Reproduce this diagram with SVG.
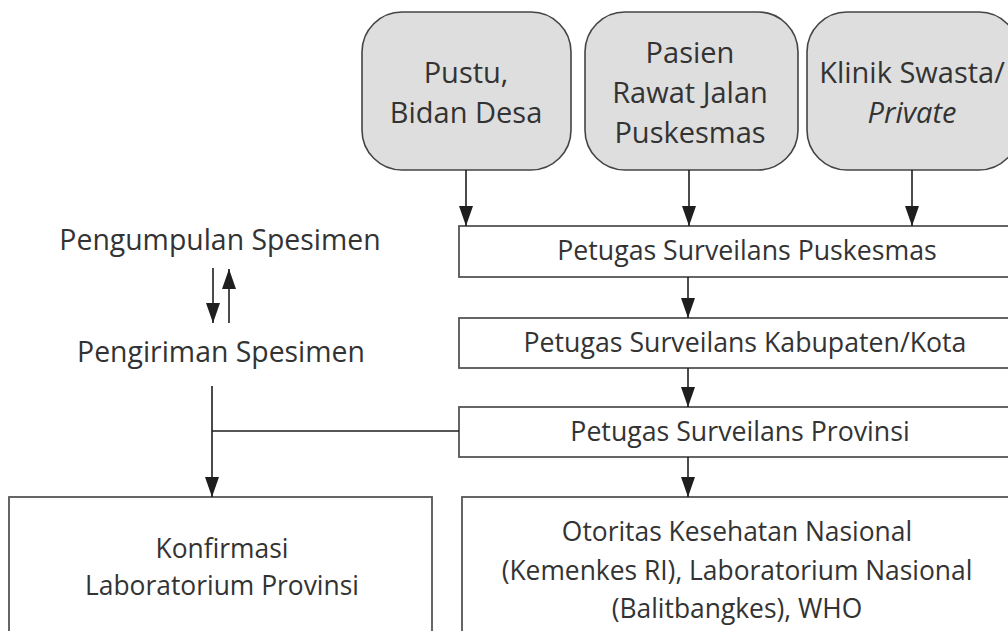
<svg xmlns="http://www.w3.org/2000/svg" width="1008" height="631" viewBox="0 0 1008 631">
  <defs>
    <marker id="arrow" viewBox="0 0 20 14" refX="20" refY="7" markerWidth="20" markerHeight="14" markerUnits="userSpaceOnUse" orient="auto">
      <path d="M0,0 L20,7 L0,14 Z" fill="#1e1e1e"/>
    </marker>
  </defs>
  <style>
    .src { fill: #dedede; stroke: #444; stroke-width: 1.6; }
    .box { fill: #fff; stroke: #555; stroke-width: 1.8; }
    .lbl { font-family: "Open Sans", "Liberation Sans", sans-serif; fill: #333; text-anchor: middle; }
    .big { font-size: 29px; }
    .mid { font-size: 26.7px; }
    .low { font-size: 26.4px; }
    .side { font-size: 28.4px; }
    .edge { stroke: #1e1e1e; stroke-width: 1.6; fill: none; }
  </style>
  <rect width="1008" height="631" fill="#fff"/>

  <!-- sources -->
  <g id="node-pustu">
    <rect class="src" x="362" y="12" width="209" height="158" rx="40"/>
    <text class="lbl big" x="466" y="83">Pustu,</text>
    <text class="lbl big" x="466" y="123">Bidan Desa</text>
  </g>
  <g id="node-pasien">
    <rect class="src" x="585" y="12" width="213" height="158" rx="40"/>
    <text class="lbl big" x="690" y="63">Pasien</text>
    <text class="lbl big" x="690" y="103">Rawat Jalan</text>
    <text class="lbl big" x="690" y="143">Puskesmas</text>
  </g>
  <g id="node-klinik">
    <rect class="src" x="807" y="12" width="212" height="158" rx="40"/>
    <text class="lbl big" x="912" y="83">Klinik Swasta/</text>
    <text class="lbl big" x="912" y="123" font-style="italic">Private</text>
  </g>

  <!-- reporting chain -->
  <g id="node-puskesmas">
    <rect class="box" x="459" y="226" width="560" height="51"/>
    <text class="lbl mid" x="747" y="260">Petugas Surveilans Puskesmas</text>
  </g>
  <g id="node-kabupaten">
    <rect class="box" x="459" y="318" width="560" height="50"/>
    <text class="lbl mid" x="745" y="352">Petugas Surveilans Kabupaten/Kota</text>
  </g>
  <g id="node-provinsi">
    <rect class="box" x="459" y="407" width="560" height="50"/>
    <text class="lbl mid" x="740" y="441">Petugas Surveilans Provinsi</text>
  </g>

  <!-- destinations -->
  <g id="node-lab-provinsi">
    <rect class="box" x="9" y="497" width="423" height="150"/>
    <text class="lbl low" x="222" y="558">Konfirmasi</text>
    <text class="lbl low" x="222" y="595">Laboratorium Provinsi</text>
  </g>
  <g id="node-nasional">
    <rect class="box" x="462" y="497" width="560" height="150"/>
    <text class="lbl low" x="737" y="541">Otoritas Kesehatan Nasional</text>
    <text class="lbl low" x="737" y="580">(Kemenkes RI), Laboratorium Nasional</text>
    <text class="lbl low" x="737" y="618">(Balitbangkes), WHO</text>
  </g>

  <!-- specimen flow labels -->
  <g id="node-pengumpulan">
    <text class="lbl side" x="220" y="250">Pengumpulan Spesimen</text>
  </g>
  <g id="node-pengiriman">
    <text class="lbl side" x="221" y="362">Pengiriman Spesimen</text>
  </g>

  <g id="connectors">
    <line class="edge" x1="466" y1="170" x2="466" y2="226" marker-end="url(#arrow)"/>
    <line class="edge" x1="689" y1="170" x2="689" y2="226" marker-end="url(#arrow)"/>
    <line class="edge" x1="912" y1="170" x2="912" y2="226" marker-end="url(#arrow)"/>
    <line class="edge" x1="688" y1="277" x2="688" y2="318" marker-end="url(#arrow)"/>
    <line class="edge" x1="688" y1="368" x2="688" y2="407" marker-end="url(#arrow)"/>
    <line class="edge" x1="688" y1="457" x2="688" y2="497" marker-end="url(#arrow)"/>
    <line class="edge" x1="213" y1="268" x2="213" y2="323" marker-end="url(#arrow)"/>
    <line class="edge" x1="229" y1="323" x2="229" y2="269" marker-end="url(#arrow)"/>
    <line class="edge" x1="212" y1="386" x2="212" y2="497" marker-end="url(#arrow)"/>
    <line class="edge" x1="212" y1="431" x2="459" y2="431"/>
  </g>
</svg>
